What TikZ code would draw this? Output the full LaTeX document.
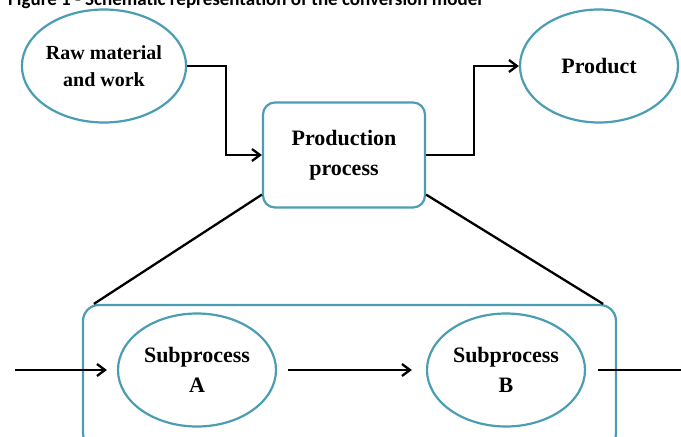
\documentclass[tikz,border=0pt]{standalone}
\usepackage{fontspec}
\setmainfont{Liberation Serif}
\newfontfamily\capfont{Carlito}
\usetikzlibrary{shapes, arrows.meta}
\definecolor{tealline}{RGB}{74,157,178}
\tikzstyle{oval} = [ellipse, minimum width=158pt, minimum height=113pt, inner sep=0pt, text centered, draw=tealline, line width=2.2pt, font=\bfseries\fontsize{22}{30}\selectfont]
\tikzstyle{process} = [rectangle, rounded corners=12pt, minimum width=162pt, minimum height=105pt, text centered, draw=tealline, line width=2.2pt, font=\bfseries\fontsize{22}{30}\selectfont]
\tikzstyle{frame} = [rectangle, rounded corners=16pt, minimum width=533pt, minimum height=144pt, draw=tealline, line width=2.2pt]
\tikzstyle{arrow} = [line width=2.3pt, ->, >={Straight Barb[length=8pt,width=12pt]}]
\tikzstyle{link} = [line width=2.3pt]

\begin{document}
\begin{tikzpicture}[x=1pt, y=-1pt, align=center]
        \useasboundingbox (0,0) rectangle (681,437);
        \clip (0,0) rectangle (681,437);

        % Nodes
        \node (caption) [anchor=base west, inner sep=0pt, font=\capfont\bfseries\fontsize{19}{22}\selectfont] at (8,5) {Figure 1 - Schematic representation of the conversion model};
        \node (raw) [oval, font=\bfseries\fontsize{20}{27}\selectfont] at (104,66) {Raw material\\and work};
        \node (prod) [process] at (344,155) {Production\\process};
        \node (product) [oval] at (599,66) {Product};
        \node (frame) [frame] at (349.5,377) {};
        \node (subA) [oval] at (197,370) {Subprocess\\A};
        \node (subB) [oval] at (506,370) {Subprocess\\B};
        \coordinate (in) at (15,370);
        \coordinate (out) at (700,370);

        % Arrows
        \draw [arrow] (raw.east) -- ++(39,0) |- (prod.west);
        \draw [arrow] (prod.east) -- ++(48,0) |- (product.west);
        \draw [link] ([yshift=14pt]prod.south west) -- ([xshift=12pt]frame.north west);
        \draw [link] ([yshift=14pt]prod.south east) -- ([xshift=-14pt]frame.north east);
        \draw [arrow, shorten >=10pt] (in) -- (subA.west);
        \draw [arrow, shorten <=11pt, shorten >=14pt] (subA.east) -- (subB.west);
        \draw [link, shorten <=12pt] (subB.east) -- (out);

    \end{tikzpicture}
\end{document}
